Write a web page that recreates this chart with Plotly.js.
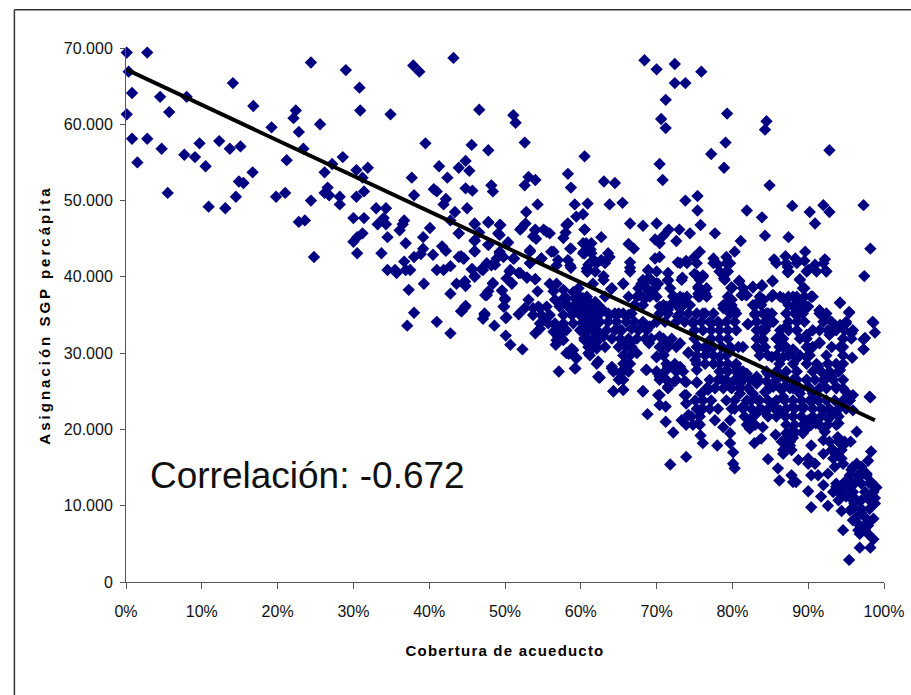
<!DOCTYPE html>
<html><head><meta charset="utf-8">
<script src="https://cdn.plot.ly/plotly-3.0.1.min.js"></script>
<style>html,body{margin:0;padding:0;background:#fff}
.xtitle{letter-spacing:1.2px}.ytitle{letter-spacing:3px}</style></head>
<body><div id="chart" style="width:911px;height:695px"></div>
<script>
// [cobertura %, asignación en miles]
const puntosIzquierda=[[0.1,69.4],[2.8,69.4],[0.35,66.9],[0.8,64.1],[4.5,63.6],[8,63.6],[5.7,61.6],[0.1,61.3],[0.8,58.1],[2.8,58.1],[4.7,56.8],[1.5,55],[5.5,51],[7.7,56],[9.1,55.7],[9.7,57.5],[10.5,54.5],[10.9,49.2],[12.3,57.8],[13.1,49],[13.7,56.8],[15.1,57.1],[14.1,65.4],[14.5,50.5],[14.9,52.5],[15.5,52.3],[16.7,53.7],[16.8,62.4],[19.2,59.6],[19.8,50.5],[21,51],[21.2,55.3],[22.4,61.8],[22.1,60.8],[22.8,59],[23.4,56.8],[22.8,47.2],[23.6,47.4],[24.4,68.1],[24.4,50],[24.8,42.6],[25.6,60],[26.2,53.7],[26.6,51.7],[26.2,51],[26.8,50.7],[27.2,54.8],[28.6,55.7],[28.2,50.5],[28.2,49.5],[29,67.1],[30.8,64.8],[30.9,61.8],[30.4,54],[31.2,53],[31.9,54.3],[31.4,51.2],[30.4,50.5],[30,47.7],[31.4,47.7],[33,49],[34.3,49],[30,44.6],[30.5,45.2],[31.2,45.7],[30.5,43.1],[33.2,46.9],[34,47.7],[34.3,46.9],[34.9,61.3],[34.5,45.2],[33.7,43.1],[34.5,40.9],[35.5,40.9],[35.7,40.5],[36.7,47.4],[36.5,46.9],[36.1,46.1],[36.9,44.4],[37.7,53],[38,50.7],[37.9,67.7],[38.7,66.9],[39.5,57.5],[36.7,42],[36.9,40.9],[37.5,40.9],[37.3,38.3],[38,42.6],[38.9,43],[39.2,43.7],[39.2,45.2],[40.1,46.4],[40.5,42.9],[39.3,39.1],[38,35.3],[37.1,33.6],[41,34.1],[42.8,32.6],[42.8,37.8],[43.6,39.1],[41,40.9],[41.9,40.9],[42.8,41.4],[41.7,44],[42.2,43.4],[43.9,42.6],[43.9,45.7],[42.8,47.4],[43.4,48.5],[41.9,49.5],[42.2,50.2],[40.6,51.5],[41,51.2],[41.3,54.5],[42.4,53],[43.9,54.3],[43.2,68.7],[44.3,35.5]];
const puntosSuperiores=[[46.6,61.9],[45.6,57.3],[47.8,56.6],[52.6,57.6],[51.1,61.2],[51.4,60.2],[60.5,55.8],[44.8,55.2],[45.3,53.9],[53.1,53.1],[54,52.7],[52.6,52],[58.3,53.5],[58.7,51.7],[63.05,52.5],[64.5,52.3],[44.8,51.6],[45.7,51.3],[48.2,52],[48.4,51.2],[45,49],[54.3,49.5],[59.2,49.5],[60.9,49.6],[60.3,48.2],[59.4,47.9],[63.8,49.5],[65.5,49.7],[52.8,48.5],[47.8,47.2],[46,47],[49.4,46.8],[52.7,47],[52,46.2],[58.3,47],[60.5,46.2],[54,46.2],[55.1,46.2],[55.9,45.7],[49.3,45.5],[58,45.8],[57.7,45.1],[62.7,45.2],[46.6,45.8],[46,44.8],[50.4,44.5],[54.1,45],[47.8,44.2],[66.5,47],[68.2,46.7],[70,47],[71.6,46.2],[73,46.2],[74.4,45.7],[75.8,46.8],[77.7,45.7],[72.6,44.7],[69.8,44.9],[70.4,44.4],[70.9,45.4],[81.1,44.7],[84.3,45.4],[83.9,47.8],[81.9,48.7],[87.9,49.3],[90.2,48.5],[90.9,47],[92,49.4],[92.8,48.5],[97.3,49.4],[87.4,45.2],[98.2,43.7],[97.4,40.1],[92.8,56.6],[84.9,52],[84.3,59.3],[84.5,60.4],[79.3,61.4],[79.1,57.6],[77.2,56.1],[78.9,54.3],[75.9,66.9],[73.8,65.4],[72.4,65.4],[72.4,67.9],[70,67.2],[68.4,68.4],[71.2,63.2],[70.6,60.7],[71.2,59.5],[70.4,54.8],[70.8,52.7],[73.8,50],[75.4,50.6],[75.4,48.7]];
const puntosMedios=[[44.6,42.4],[46,43.4],[49.3,43.3],[49.8,42.6],[48.7,41.6],[47.6,41.8],[46.9,41],[45.7,41],[46,40.1],[44.7,39.4],[48.4,39.2],[47.6,37.6],[49.6,38.2],[50,37],[49.9,36.1],[44.7,36],[47.3,35],[50.2,34.7],[51.2,42.4],[50.6,40.7],[52,40.5],[52.9,39.9],[54,39.7],[50.9,39.2],[53.3,41.8],[54.8,42.4],[56.1,43.3],[57,42.2],[53.3,43.5],[58.3,42.2],[58.7,43.7],[58.7,41.2],[60.7,44.4],[60.4,43.3],[61.3,43.6],[61,41.6],[60.9,40.7],[61.9,42],[62.7,42.2],[63.8,42.6],[63,40.1],[66.5,41.9],[66.5,41.2],[66.3,44.3],[67,43.7],[69.8,42.4],[70.4,42.6],[72.8,41.9],[73.9,42.1],[75,42.6],[75.7,43.3],[77.5,42.4],[78.1,41.6],[79.2,42.6],[80.3,43.3],[79.7,41.8],[79.2,40.7],[78.9,39.8],[80.9,39.4],[79.9,38.6],[81.2,37.6],[81.9,37.6],[82.7,38.7],[83.9,38.8],[85.3,39.4],[85.3,37.6],[86.3,37.4],[85.5,42.3],[87,42.7],[88.3,42.4],[87.3,41.3],[87.3,40.6],[89.6,43.3],[89.5,42.1],[90.9,41.6],[92.2,42.3],[92.3,40.8],[90,40.9],[88.9,39.7],[89.5,38.5],[90.4,37.4],[88,37.4],[88.9,36.5],[90,36.1],[94.2,36.6],[95.4,35.3],[98.5,34.1],[91.5,35.6],[92.2,35],[68.9,40.8],[71.5,40.5],[71.5,39.5],[73.4,39.9],[75,40.4],[76.1,40],[75.5,38.7],[76.4,37.8],[65.6,39.1],[68,39.1],[70,39.1],[64,38.4],[66.3,37.4],[67.8,37.6],[72.2,37.5],[73.5,37.2],[75.5,37.4],[78.8,35.9],[79.7,37],[80.3,35.6],[83,36.3],[84,37],[84.7,35.2],[71.3,36.1]];
const puntosCentro=[[44.2,35.5],[44.8,36.2],[44.7,39.4],[44.8,38.8],[46,40],[45.6,41],[47.1,40.9],[48.4,39.1],[47.8,38.1],[47.4,37.6],[49.6,38.2],[50,37.2],[49.8,36.1],[47.3,35.2],[47.1,34.5],[48.6,33.6],[50.1,34.6],[50.1,32.3],[50.7,31.1],[52.3,30.5],[51.8,35.1],[52.6,35.9],[53.1,37],[54.3,38.1],[50.7,40.9],[50.2,39.8],[50.9,39.1],[51.8,40.5],[52.9,39.9],[54,39.7],[48.2,41.5],[49.3,43.1],[48.9,42.4],[47.8,44.2],[46,44.7],[46,43.3],[43.9,45.7],[44.2,42.7],[44.5,42.4],[54,32.6],[54.6,33.2],[55.3,34.3],[53.7,35.9],[54.6,35.9],[55.7,34.8],[56.6,33.9],[57,32.1],[56.7,31.1],[57.5,31.9],[58.1,30],[58.8,30.6],[59.4,29.4],[59.3,28],[57.1,27.6],[60.8,31.9],[61.2,29.7],[61.9,31.3],[62.3,28.9],[62.3,26.9],[60.3,33.9],[61.4,33.2],[62.1,34.6],[58.1,33],[56.8,33.5],[58.1,36.5],[59.4,36.5],[60.3,35.6],[59,35.2],[57.7,37.2],[56.6,37],[56.4,38.1],[57.7,38.3],[59,38],[59.7,38.5],[56.8,39.1],[55.9,39.1],[61.9,36.7],[61.6,39.1],[49.3,46.8],[47.8,47.1],[46,46.9],[52.2,46.4],[54,46.1],[55.5,45.9],[58.1,46.8],[60.5,46.2],[58.6,43.7],[58.6,41.5],[60.8,44.2],[60.5,43.1],[60.8,41.1],[61.9,42],[53.7,45.3],[53.3,43.3],[54.8,42.4],[53.3,41.8],[56.4,43.3],[56.8,41.5],[51.1,42.4],[50.4,44.5],[49.1,45.7]];
const puntosDensos=[[60.8,37],[61.9,35.2],[61,34.6],[63,35.6],[63.8,35],[64.1,38.5],[65.6,39.1],[63.2,37.4],[65,35.2],[66.3,35],[67.1,36.3],[68.5,37.2],[69.3,37.6],[68.9,40.9],[68.2,39.6],[70.2,39.1],[70.4,36.1],[71.5,35.7],[72.6,37],[73.7,36.5],[72.8,34.8],[74.8,33.9],[76.1,35.2],[75.5,37.8],[76.4,37.8],[75.3,40.2],[76.1,40.2],[75.5,38.5],[77.2,33.9],[78.3,33.9],[79,36.1],[80.3,35.2],[79.9,37],[81.3,37.6],[81.8,37.6],[79.9,38.6],[80.9,39.5],[82.7,38.6],[83.9,38.9],[85.3,39.5],[85.4,37.6],[86.7,37.2],[88.5,37.2],[90.4,37.4],[88,36.1],[88.9,35.2],[89.8,36.1],[83.2,36.5],[84.1,37],[83,35],[84.5,35.2],[82.1,33.8],[84.9,33.9],[83.8,33],[94.2,36.6],[95.4,35.4],[91.5,35.6],[92.2,34.8],[98.6,34],[98.8,32.7],[97.5,32],[97.3,30.5],[95,33.9],[95.7,32.6],[94.2,33.7],[93.5,33.2],[90.6,33],[89.8,32.4],[87.1,33.5],[86.3,32.2],[91.5,31.3],[88,30.4],[94.6,30.8],[95.8,29.4],[92.8,32.4],[90.2,30.6],[60.5,32],[61.6,30.8],[62.3,32.8],[63,32.2],[61,30],[62.1,28.6],[64.1,28.2],[65.2,27.4],[62.5,26.8],[65,26.5],[65.6,25.2],[64.3,25],[66,28.6],[67.4,30],[66.5,31.3],[65.8,31.3],[65.2,33],[66.7,33.2],[68.2,33.5],[69.1,33.5],[69,31.3],[70.4,32.2],[71.5,31.3],[73.1,31.3],[74.2,30.1],[70,29.5],[70.9,29.8],[71.5,28.2],[73.1,28.2],[68.7,27.8],[70.2,27.3],[71.5,25.6],[72.4,26.3],[73.7,26.3],[75.3,27.8],[75.1,29.1],[75.5,30.8],[76.6,30.4],[78.3,29.5],[77.5,28.6],[79.7,30.4],[81.4,30.8],[80.5,28.2],[79.2,27.8],[75.3,26.1],[76.8,25.2],[75.9,24.7],[68.2,25],[70.4,24.5],[73.7,24.5],[79.7,25.6],[81,26],[81.9,27.3],[83.2,26.9],[84.5,26.3],[85.8,26.9],[83.6,30.4],[84,31.7],[85.2,29.5],[86.7,29.5],[88.5,29.3],[86.7,30.8],[89.8,29.5],[91.3,28.2],[92.6,28.6],[94.2,27.8],[92.4,26.7],[90.9,26.5],[89.8,26.5],[88,26.5],[86.2,27.3],[86.9,25.6],[88.9,25.2],[90.6,24.7],[93.7,25.6],[95,24.9],[95.9,24.5],[98.1,24.3],[82.7,24.7],[84.3,24.9]];
const puntosInferiores=[[97.3,31.8],[97.3,30.5],[91.5,31.4],[98.2,24.2],[96.4,19.7],[95.6,18.4],[98.3,17.1],[97.9,15.9],[90.4,17.9],[95.4,2.9],[96.8,4.5],[98.2,4.5],[98.6,5.6],[94.6,6.8],[96.6,6.8],[97.5,6.8],[97.9,7.9],[98.6,8.3],[95.9,8.1],[94.4,9.3],[95.5,9.4],[97,9],[98.1,9.6],[98.8,10.3],[96.1,10.3],[95.9,11.2],[98.1,11.2],[98.8,11],[99,12.4],[98.3,13.1],[97.7,14.2],[97,15.1],[96.4,15.5],[96.8,13.8],[95.7,14.7],[96.1,12.9],[95.3,12.5],[95,11.2],[94.8,13.1],[93.7,12.5],[94.2,11.6],[92.6,10],[90.4,9.8],[91.7,11.2],[92,12.7],[90,11.9],[88.4,13.1],[87.8,14],[88,13.1],[86.2,13.3],[86,14.9],[84.7,16.1],[90.4,14],[90,15.5],[91.3,14],[92.6,14.2],[93.5,15.1],[94.6,15.5],[93.9,16.6],[94.6,17.9],[93.1,17.3],[92,18.6],[92,16.8],[90.9,15.5],[92.2,19.7],[93.9,19],[80.3,14.9],[80.1,15.5],[73.9,16.4],[71.8,15.4],[78,17.9],[76.1,18.2],[75.8,19.2],[80.1,17],[79.7,18.2],[79.7,19.5],[78.8,20.3],[77.7,21.2],[79.7,21.2],[72.2,19.6],[71.2,21],[68.8,22],[73.9,20.6],[73.3,21.2],[75.5,20.8],[78.1,22.7],[82.9,18.2],[83.8,18.8],[85.7,19.3],[84,20.3],[82.3,20.1],[82.5,21.4],[86.7,16.8],[87.6,17.9],[88.7,16],[86.7,18.4],[88,18.9],[89.3,19.7],[90,20.3],[88,19.9],[68.2,25],[64.3,25],[65.6,25.2],[62.4,26.8],[59.2,28],[59.4,29.3],[58.4,29.9],[59,30.4],[64.1,28],[65.2,26.7],[66,27.8],[68.6,27.8],[70,29.5],[71.5,28],[70.4,26.9],[72.6,26.5],[73.9,26.2],[71.5,25.4],[70.2,24.5],[70.4,23.2],[71.2,23],[73.9,24.5],[73.9,23.4],[76.1,23.8],[76.8,25.4],[75.7,22.5],[74.2,21.9],[75.3,26.2],[79.9,22.7],[81.4,23],[83.4,23.8],[85.4,23.4],[86.3,22.5],[88,23],[88.9,24.7],[90.6,23.8],[92,22.5],[93.7,22.1],[95.5,23.8],[95.9,22.5],[94.6,25.4],[93.1,26.9],[91.5,25.4],[90,25.6],[90,21.2],[91,20.8],[92.7,21.4],[94,20.8],[89.3,23],[87,21.7],[85.8,22.5],[84,22.5],[81.9,23.8],[83.2,22.1],[81,24.7],[78.7,26.5],[81,27.3],[83.2,26],[85.4,25.6],[86.7,24.3],[88,25.4],[84.7,27.3],[82,33.8],[88,30.5],[74.2,30]];
// filas de la nube densa: [asignación en miles, [coberturas %]]
const filasDensas=[[44.4,[60.3,61.4]],[43.1,[60.3,61.4,63.6]],[41.8,[61.2,62.1,63.2,73.1,74,75.3,77.5,79.2,85.8,87.1,88.5,92]],[40.7,[60.8,61.9,66.5,70,78.3,79.4,87.4,89.8,91.1,92.4]],[39.6,[63,68.7,69.3,71.5,73.3,75.7,79,88.9]],[38.5,[67.6,68.7,69.8,71.8,75.7,76.6,79.9,81.4,89.3]],[37.4,[59.9,60.8,67.4,68.2,69.1,70,72.2,73.1,74,75.7,76.6,79.4,83.6,85.2,87.4,88.5,89.5,90.6]],[36.3,[60.3,61.2,62.3,67.1,68.2,70.9,71.8,72.6,73.5,74.4,78.8,79.9,82.7,83.8,87.4,88.5,89.3]],[35.2,[59.9,60.8,62.5,63.6,64.5,65.6,66.7,70.4,71.5,73.1,74.2,75.3,76.4,77.5,79.7,80.5,83,84,85.2,87.1,88.2,89.3,91.5,92.4]],[34.1,[60.3,61.4,62.5,63.6,64.7,66,67.1,68.2,70,71.1,72.6,73.7,74.8,75.9,77,78.1,79.2,80.3,83.2,84.3,85.4,87.4,88.5,89.5,92,93.1,95]],[33,[59.9,61,62.1,63.4,64.5,65.4,67.6,68.7,75,76.1,77.2,78.3,79.4,80.5,83.2,84.3,86.3,87.4,88.5,91.5,92.6,93.7,94.8,95.9]],[31.9,[60.5,61.6,62.5,64.1,65.2,66.3,67.4,68.5,69.3,70.9,72,75,77.2,78.3,79.4,83.2,84,85.8,86.7,88.9,89.8,94.6,95.7]],[30.8,[61,62.1,63.2,65,66,66.7,70.4,71.5,72.6,75.3,76.4,77.5,78.6,79.7,80.8,83.2,84.3,86.2,87.1,89.8,90.6,93.1,94.2]],[29.7,[65.6,66.5,70.9,75.3,76.4,77.5,79.2,83.6,84.7,85.8,87.4,88.9,90.2,92.4,94.6]],[28.6,[65.6,66.5,71.3,72.4,75.3,76.4,78.3,79.4,80.5,86.2,88,89.8,91.1,92.6,93.7,94.6]],[27.6,[64.3,65.4,66.3,70,71.1,72.6,73.5,78.3,79.4,80.5,81.4,84.5,85.8,87.1,88.5,90.6,91.7,92.8,94]],[26.5,[65.6,70.4,71.3,77,78.1,79.2,80.3,81.4,82.3,83.4,85.8,87.1,88.5,89.8,92,93.3,94.6]],[25.4,[76.6,77.7,78.8,79.9,81,82.1,84.9,86.3,87.6,88.9,90.2,92.4,93.7]],[23.8,[75.1,76.1,77.2,79.2,80.3,82.5,83.6,84.7,85.8,86.9,88,89.1,90.2,91.3,92.4,93.5,94.6]],[22.7,[75.3,76.1,77,80.3,81.4,82.5,83.6,84.7,85.8,87.1,88.2,89.3,90.6,91.7,92.8,94,95]],[21.7,[74.6,75.7,81.6,82.7,84.7,85.8,88,89.1,90.6,91.7,92.8,94]],[20.6,[74.8,75.7,81.9,83,87.1,88.2,89.3,90.4,91.5,92.6,93.7]],[19.5,[87.1,88.2,89.3]],[18.4,[86.5,87.6,92.8,94,94.8]],[17.3,[86.7,87.8,93.3,94.4]],[16.2,[90,93.3,94.4]],[15.1,[95.9,97]],[14,[95.5,96.6,97.7]],[12.9,[93.7,94.8,95.9,97,98.1]],[11.8,[93.3,94.4,95.9,97.5,98.6]],[10.7,[94,95.9,97,98.1]],[9.6,[95.9,97]],[8.5,[96.4,97.5]],[7.4,[96.8,97.9]],[6.3,[96.8,97.9]]];
const filasCentro=[[37.2,[58.1,59.2,60.3]],[36.1,[54.4,55.5,57.2,58.3,59.4,61.6]],[35,[53.7,54.8,55.9,57.7,58.8,59.9,61.2,62.1]],[33.9,[54.6,55.7,57.7,59,60.3,61.4]],[32.8,[56.4,57.5,60.8,61.9]],[31.7,[56.8,57.7,60.5,61.6]],[30.6,[61.4,62.1]]];
const tendenciaX=[0,98.8];
const tendenciaY=[67.2,21.2];
const xTicks=[0,10,20,30,40,50,60,70,80,90,100];
const xEtiquetas=['0%','10%','20%','30%','40%','50%','60%','70%','80%','90%','100%'];
const yTicks=[0,10,20,30,40,50,60,70];
const yEtiquetas=['0','10.000','20.000','30.000','40.000','50.000','60.000','70.000'];

const filas=[...filasDensas,...filasCentro].flatMap(f=>f[1].map(x=>[x,f[0]]));
const todos=[...puntosIzquierda,...puntosSuperiores,...puntosMedios,...puntosCentro,...puntosDensos,...puntosInferiores,...filas];
const W=911,H=695,L=125.7,R=884.3,T=48.3,B=581.7;
const px=v=>(v-L)/(R-L), py=v=>(B-v)/(B-T);
const fx=px(14), fy=py(10);
Plotly.newPlot('chart',[
 {type:'scatter',mode:'markers',x:todos.map(p=>p[0]),y:todos.map(p=>p[1]),cliponaxis:false,
  marker:{symbol:'diamond',size:9.5,color:'#000080'},hoverinfo:'x+y'},
 {type:'scatter',mode:'lines',x:tendenciaX,y:tendenciaY,cliponaxis:false,line:{color:'#000',width:4},hoverinfo:'skip'}
],{
 width:W,height:H,showlegend:false,paper_bgcolor:'#fff',plot_bgcolor:'#fff',
 margin:{l:L,r:W-R,t:T,b:H-B,pad:0},
 font:{family:'"Liberation Sans",Arial,sans-serif',color:'#111'},
 xaxis:{range:[0,100],tickmode:'array',tickvals:xTicks,ticktext:xEtiquetas,showgrid:false,zeroline:false,showline:true,linecolor:'#555',linewidth:1,
  ticks:'outside',ticklen:6,tickcolor:'#555',tickwidth:1,tickfont:{size:16},ticklabelstandoff:9,
  title:{text:'Cobertura de acueducto',font:{size:15,weight:'bold',color:'#000'},standoff:26}},
 yaxis:{range:[0,70],tickmode:'array',tickvals:yTicks,ticktext:yEtiquetas,showgrid:false,zeroline:false,showline:true,linecolor:'#555',linewidth:1,
  ticks:'outside',ticklen:5,tickcolor:'#555',tickwidth:1,tickfont:{size:16},ticklabelstandoff:4,
  title:{text:'Asignación SGP percápita',font:{size:15,weight:'bold',color:'#000'},standoff:9}},
 annotations:[{xref:'paper',yref:'paper',x:px(148),y:py(475),xanchor:'left',yanchor:'middle',showarrow:false,
  text:'Correlación: -0.672',font:{size:37,color:'#111'}}],
 shapes:[
  {type:'line',xref:'paper',yref:'paper',x0:fx,x1:fx,y0:py(H+2),y1:fy,line:{color:'#333',width:1.5}},
  {type:'line',xref:'paper',yref:'paper',x0:fx,x1:px(W+2),y0:fy,y1:fy,line:{color:'#333',width:1.5}}
 ]
},{displayModeBar:false,staticPlot:true});
</script></body></html>
